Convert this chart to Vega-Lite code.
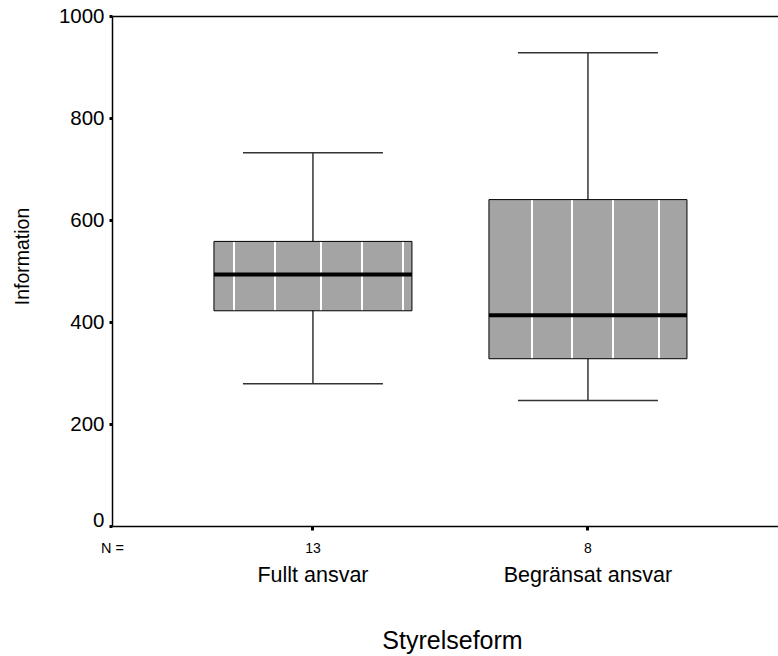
{
  "$schema": "https://vega.github.io/schema/vega-lite/v6.json",
  "autosize": "none",
  "width": 666,
  "height": 510,
  "padding": {"left": 112, "top": 16, "right": 0, "bottom": 130},
  "config": {
    "font": "Liberation Sans",
    "view": {"stroke": null},
    "axis": {"grid": false}
  },
  "data": {
    "values": [
      {"cat": "Fullt ansvar", "n": 13, "lower": 279, "q1": 422, "median": 493, "q3": 558, "upper": 732},
      {"cat": "Begränsat ansvar", "n": 8, "lower": 246, "q1": 328, "median": 413, "q3": 640, "upper": 928}
    ]
  },
  "resolve": {"scale": {"x": "independent"}, "axis": {"x": "independent"}},
  "encoding": {
    "y": {
      "field": "median",
      "type": "quantitative",
      "scale": {"domain": [0, 1000], "nice": false, "zero": true},
      "axis": {
        "values": [0, 200, 400, 600, 800, 1000],
        "format": "d",
        "title": "Information",
        "titleFontSize": 19.5,
        "titleFontWeight": "normal",
        "titleColor": "black",
        "titleAngle": -90,
        "titleX": -84,
        "titleY": 240,
        "titleAlign": "center",
        "titleBaseline": "alphabetic",
        "labelFontSize": 20.5,
        "labelColor": "black",
        "labelPadding": 5,
        "labelFlush": false,
        "labelBaseline": {"condition": {"test": "datum.value == 0", "value": "alphabetic"}, "value": "middle"},
        "tickSize": 3,
        "tickWidth": 3,
        "tickColor": "black",
        "domainColor": "black",
        "domainWidth": 1.5
      }
    }
  },
  "layer": [
    {
      "encoding": {
        "x": {
          "field": "cat",
          "type": "nominal",
          "sort": null,
          "scale": {"domain": ["Fullt ansvar", "Begränsat ansvar"], "paddingInner": 0, "paddingOuter": 0.2109, "align": 0.547},
          "axis": {
            "orient": "top",
            "labels": false,
            "ticks": false,
            "title": null,
            "domainColor": "black",
            "domainWidth": 1.5
          }
        }
      },
      "layer": [
        {
          "mark": {"type": "rule", "color": "black", "strokeWidth": 1.2},
          "encoding": {"y": {"field": "lower", "type": "quantitative"}, "y2": {"field": "upper"}}
        },
        {
          "mark": {"type": "tick", "color": "#333333", "opacity": 1, "size": 140, "thickness": 1.5},
          "encoding": {"y": {"field": "upper", "type": "quantitative"}}
        },
        {
          "mark": {"type": "tick", "color": "#333333", "opacity": 1, "size": 140, "thickness": 1.5},
          "encoding": {"y": {"field": "lower", "type": "quantitative"}}
        },
        {
          "transform": [{"filter": "datum.cat == 'Fullt ansvar'"}],
          "mark": {
            "type": "bar",
            "width": {"band": 0.72},
            "stroke": "black",
            "strokeWidth": 1,
            "opacity": 1,
            "fill": {
              "gradient": "linear", "x1": 0, "x2": 1, "y1": 0, "y2": 0,
              "stops": [
                {"offset": 0, "color": "#a4a4a4"},
                {"offset": 0.097, "color": "#a4a4a4"}, {"offset": 0.097, "color": "#ffffff"}, {"offset": 0.105, "color": "#ffffff"}, {"offset": 0.105, "color": "#a4a4a4"},
                {"offset": 0.304, "color": "#a4a4a4"}, {"offset": 0.304, "color": "#ffffff"}, {"offset": 0.312, "color": "#ffffff"}, {"offset": 0.312, "color": "#a4a4a4"},
                {"offset": 0.536, "color": "#a4a4a4"}, {"offset": 0.536, "color": "#ffffff"}, {"offset": 0.544, "color": "#ffffff"}, {"offset": 0.544, "color": "#a4a4a4"},
                {"offset": 0.743, "color": "#a4a4a4"}, {"offset": 0.743, "color": "#ffffff"}, {"offset": 0.751, "color": "#ffffff"}, {"offset": 0.751, "color": "#a4a4a4"},
                {"offset": 0.951, "color": "#a4a4a4"}, {"offset": 0.951, "color": "#ffffff"}, {"offset": 0.959, "color": "#ffffff"}, {"offset": 0.959, "color": "#a4a4a4"},
                {"offset": 1, "color": "#a4a4a4"}
              ]
            }
          },
          "encoding": {"y": {"field": "q1", "type": "quantitative"}, "y2": {"field": "q3"}}
        },
        {
          "transform": [{"filter": "datum.cat == 'Begränsat ansvar'"}],
          "mark": {
            "type": "bar",
            "width": {"band": 0.72},
            "stroke": "black",
            "strokeWidth": 1,
            "opacity": 1,
            "fill": {
              "gradient": "linear", "x1": 0, "x2": 1, "y1": 0, "y2": 0,
              "stops": [
                {"offset": 0, "color": "#a4a4a4"},
                {"offset": 0.213, "color": "#a4a4a4"}, {"offset": 0.213, "color": "#ffffff"}, {"offset": 0.221, "color": "#ffffff"}, {"offset": 0.221, "color": "#a4a4a4"},
                {"offset": 0.415, "color": "#a4a4a4"}, {"offset": 0.415, "color": "#ffffff"}, {"offset": 0.423, "color": "#ffffff"}, {"offset": 0.423, "color": "#a4a4a4"},
                {"offset": 0.622, "color": "#a4a4a4"}, {"offset": 0.622, "color": "#ffffff"}, {"offset": 0.630, "color": "#ffffff"}, {"offset": 0.630, "color": "#a4a4a4"},
                {"offset": 0.855, "color": "#a4a4a4"}, {"offset": 0.855, "color": "#ffffff"}, {"offset": 0.863, "color": "#ffffff"}, {"offset": 0.863, "color": "#a4a4a4"},
                {"offset": 1, "color": "#a4a4a4"}
              ]
            }
          },
          "encoding": {"y": {"field": "q1", "type": "quantitative"}, "y2": {"field": "q3"}}
        },
        {
          "mark": {"type": "tick", "color": "black", "opacity": 1, "size": 198, "thickness": 4},
          "encoding": {"y": {"field": "median", "type": "quantitative"}}
        }
      ]
    },
    {
      "mark": {"type": "tick", "opacity": 0},
      "encoding": {
        "x": {
          "field": "n",
          "type": "ordinal",
          "sort": null,
          "scale": {"domain": [13, 8], "paddingInner": 0, "paddingOuter": 0.2109, "align": 0.547},
          "axis": {
            "orient": "bottom",
            "domain": false,
            "ticks": true,
            "tickSize": 4,
            "tickWidth": 3,
            "tickColor": "black",
            "labelFontSize": 14,
            "labelColor": "black",
            "labelAngle": 0,
            "labelBaseline": "alphabetic",
            "labelPadding": 22,
            "title": "N =",
            "titleFontSize": 14.5,
            "titleFontWeight": "normal",
            "titleColor": "black",
            "titleX": 0,
            "titleY": 26,
            "titleAlign": "center",
            "titleBaseline": "alphabetic"
          }
        }
      }
    },
    {
      "mark": {"type": "tick", "opacity": 0},
      "encoding": {
        "x": {
          "field": "cat",
          "type": "nominal",
          "sort": null,
          "scale": {"domain": ["Fullt ansvar", "Begränsat ansvar"], "paddingInner": 0, "paddingOuter": 0.2109, "align": 0.547},
          "axis": {
            "orient": "bottom",
            "domain": true,
            "domainColor": "black",
            "domainWidth": 1.5,
            "ticks": false,
            "tickSize": 0,
            "labelFontSize": 21.5,
            "labelColor": "black",
            "labelAngle": 0,
            "labelBaseline": "alphabetic",
            "labelPadding": 55,
            "title": "Styrelseform",
            "titleFontSize": 25,
            "titleFontWeight": "normal",
            "titleColor": "black",
            "titleX": 340,
            "titleY": 122,
            "titleAlign": "center",
            "titleBaseline": "alphabetic"
          }
        }
      }
    }
  ]
}
